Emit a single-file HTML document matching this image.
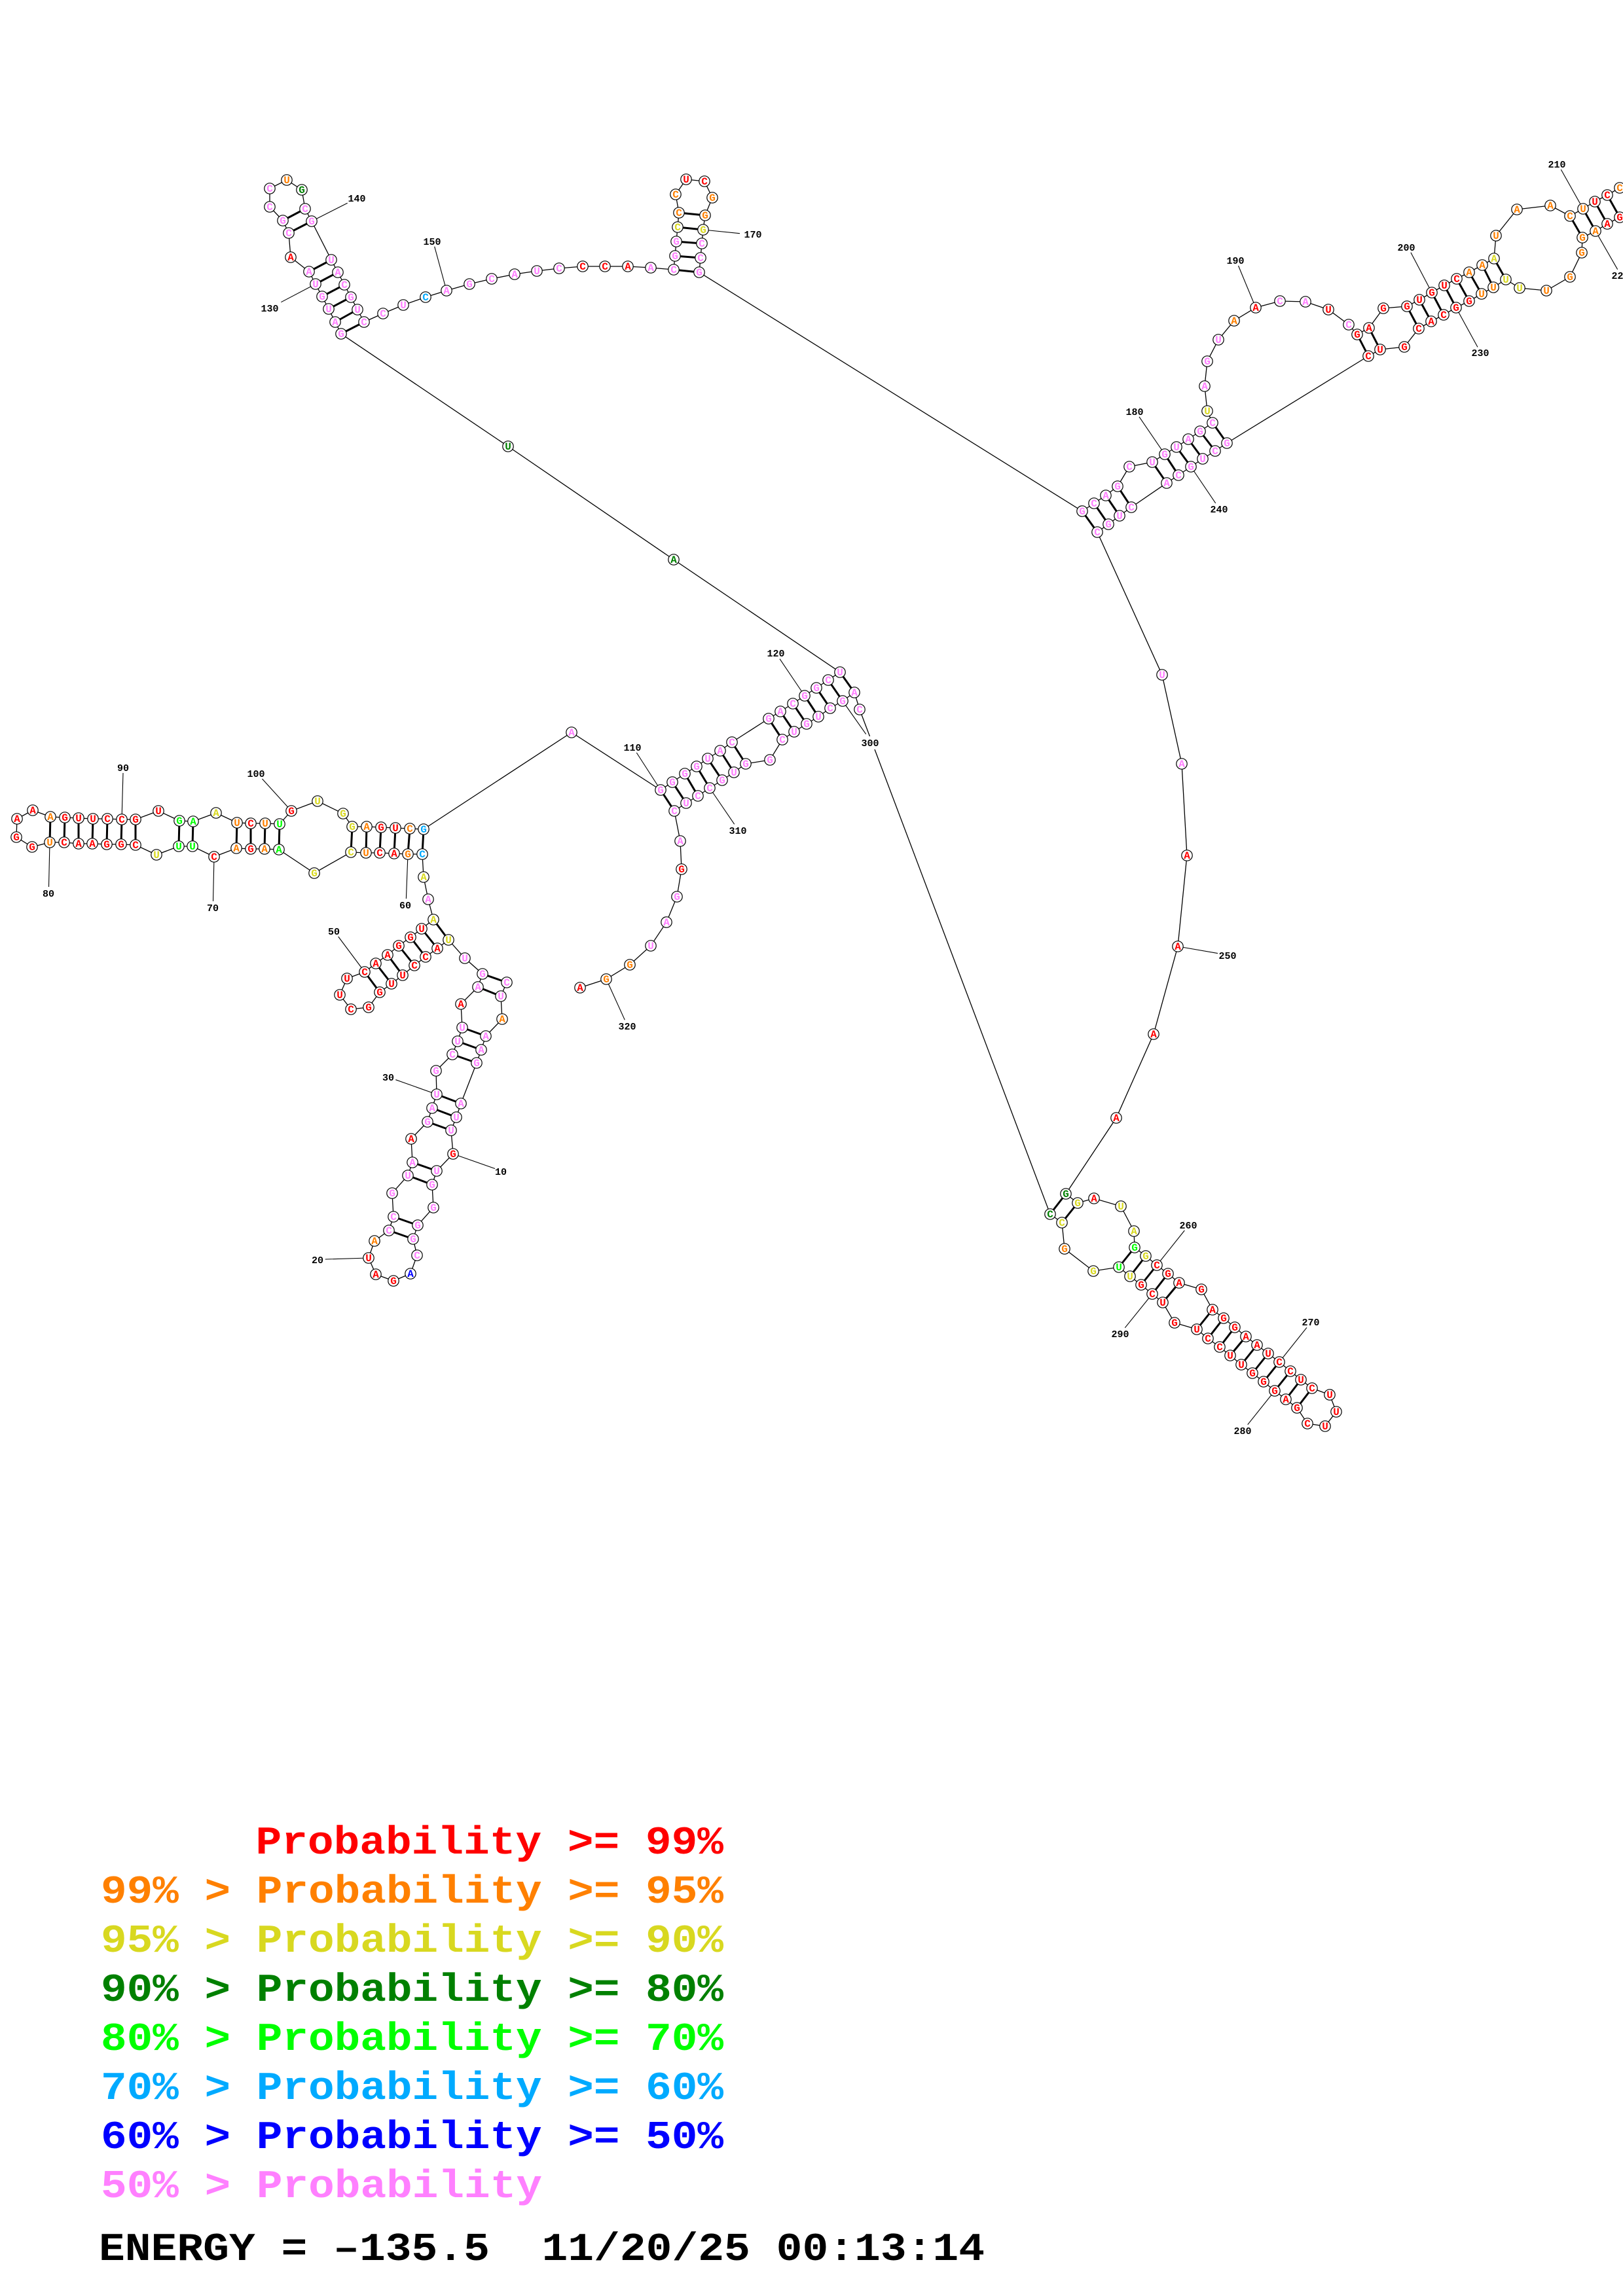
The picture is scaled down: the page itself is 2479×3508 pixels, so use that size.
<!DOCTYPE html>
<html><head><meta charset="utf-8"><title>RNA secondary structure</title>
<style>
html,body{margin:0;padding:0;background:#fff;width:2479px;height:3508px;overflow:hidden}
svg{display:block}
.n circle{r:8.2px;fill:#fff;stroke:#000;stroke-width:1.2}
.l text{font:bold 16px "Liberation Mono",monospace;text-anchor:middle}
.t text{font:bold 15px "Liberation Mono",monospace;text-anchor:middle;fill:#000}
.g text{font:bold 60px "Liberation Mono",monospace}
.r{fill:#f00}.o{fill:#ff8000}.y{fill:#d8d820}.d{fill:#008000}.g2{fill:#0f0}.s{fill:#0af}.b{fill:#00f}.p{fill:#ff80ff}
</style></head><body>
<svg width="2479" height="3508" viewBox="0 0 2479 3508" xmlns="http://www.w3.org/2000/svg">
<rect width="2479" height="3508" fill="#fff"/>
<path fill="none" stroke="#000" stroke-width="1.3" d="M774 1501L765 1522L767 1557L742 1583L735 1604L728 1624L704 1686L697 1707L689 1727L692 1763L667 1789L660 1810L662 1845L638 1872L631 1893L637 1918L627 1946L601 1957L574 1947L563 1922L572 1896L594 1880L601 1859L599 1823L623 1796L630 1776L628 1740L653 1714L660 1693L667 1672L666 1636L691 1611L699 1591L706 1570L704 1534L730 1508L737 1488L710 1464L685 1436L668 1449L650 1462L633 1475L615 1490L598 1503L580 1516L563 1539L536 1542L519 1520L530 1495L557 1485L574 1472L592 1459L609 1445L627 1432L644 1419L662 1405L654 1374L647 1340L645 1305L623 1305L602 1304L580 1303L559 1303L536 1302L480 1334L426 1298L404 1297L383 1297L361 1296L327 1309L294 1293L273 1293L239 1306L207 1291L185 1290L163 1290L141 1289L120 1289L98 1287L76 1287L49 1294L25 1279L26 1251L50 1238L77 1248L99 1249L120 1250L142 1251L164 1251L186 1252L207 1252L242 1239L274 1254L295 1255L330 1242L362 1257L383 1258L405 1258L427 1259L445 1239L485 1224L524 1243L538 1263L560 1263L582 1264L604 1265L626 1266L647 1267L873 1119L1009 1207L1027 1195L1046 1182L1064 1171L1081 1159L1100 1147L1118 1134L1174 1098L1192 1087L1211 1075L1229 1063L1247 1051L1265 1039L1283 1027L1029 855L776 682L521 510L512 492L502 472L492 453L482 434L472 415L444 393L441 356L432 337L412 316L412 288L438 275L461 290L466 319L476 338L506 397L516 416L526 435L536 454L546 473L556 492L585 479L616 466L650 454L682 444L717 434L751 426L786 419L820 414L854 410L890 407L924 407L959 407L994 409L1029 412L1031 391L1033 369L1035 347L1037 325L1032 297L1048 274L1076 277L1088 302L1077 329L1074 351L1072 372L1070 394L1068 416L1653 781L1671 769L1689 757L1707 743L1725 713L1760 706L1779 694L1797 683L1815 671L1833 659L1852 646L1844 628L1840 590L1844 552L1861 519L1885 490L1918 470L1955 460L1994 461L2029 473L2060 496L2073 511L2091 501L2113 471L2149 468L2168 458L2187 447L2206 436L2225 426L2244 416L2264 405L2282 395L2285 360L2317 320L2368 314L2398 330L2418 319L2436 308L2455 298L2474 287L2494 276"/>
<path fill="none" stroke="#000" stroke-width="1.3" d="M2494 321L2474 332L2455 342L2437 353L2417 363L2416 386L2398 423L2362 444L2321 440L2300 427L2281 439L2263 449L2244 460L2224 470L2205 481L2186 491L2167 502L2145 530L2108 534L2090 544L1874 677L1856 689L1837 701L1819 713L1800 726L1782 738L1728 775L1710 788L1693 801L1676 813L1775 1031L1805 1167L1813 1307L1799 1446L1762 1580L1705 1708L1628 1824L1646 1838L1671 1831L1712 1843L1732 1881L1733 1906L1750 1919L1767 1933L1784 1946L1801 1960L1835 1970L1852 2001L1869 2014L1886 2028L1903 2042L1920 2055L1937 2068L1954 2081L1971 2095L1987 2108L2004 2121L2031 2131L2041 2157L2024 2179L1997 2175L1981 2151L1964 2138L1947 2125L1930 2111L1913 2098L1896 2085L1879 2071L1863 2058L1845 2045L1828 2031L1794 2021L1776 1990L1760 1977L1743 1963L1726 1950L1709 1936L1670 1942L1626 1908L1622 1868L1604 1855L1313 1084L1305 1058L1287 1071L1268 1082L1250 1095L1232 1106L1213 1118L1195 1130L1176 1161L1139 1167L1121 1180L1103 1192L1084 1204L1066 1216L1048 1227L1030 1239L1039 1285L1041 1328L1034 1370L1018 1409L994 1445L962 1474L926 1496L886 1509"/>
<path fill="none" stroke="#000" stroke-width="1.1" d="M188 1181L186 1252M74.500 1355L76 1287M325.500 1377L327 1309M400.500 1190L445 1239M620.400 1373L623 1305M516.700 1431L557 1485M604.300 1649.700L667 1672M756 1785.500L692 1763M496.700 1924L563 1922M530.700 310.300L476 338M429.300 461.700L482 434M663.700 376.700L682 444M1130 356.700L1074 351M1740 636.800L1779 694M1891.500 406L1918 470M2154.900 385.800L2187 447M2257 530.400L2224 470M1856.700 768.800L1819 713M2384.300 259L2418 319M2470.700 411.700L2437 353M1860 1456.600L1799 1446M1809.300 1880L1767 1933M1996 2028.300L1954 2081M1905.700 2176.700L1947 2125M1718.300 2028.700L1760 1977M972.300 1150L1009 1207M1191 1006.700L1229 1063M1322.700 1121.700L1287 1071M1121.700 1259.300L1084 1204M954.300 1558.300L926 1496"/>
<path fill="none" stroke="#000" stroke-width="3" d="M774 1501L737 1488M765 1522L730 1508M742 1583L706 1570M735 1604L699 1591M728 1624L691 1611M704 1686L667 1672M697 1707L660 1693M689 1727L653 1714M667 1789L630 1776M660 1810L623 1796M638 1872L601 1859M631 1893L594 1880M685 1436L662 1405M668 1449L644 1419M650 1462L627 1432M633 1475L609 1445M615 1490L592 1459M598 1503L574 1472M580 1516L557 1485M645 1305L647 1267M623 1305L626 1266M602 1304L604 1265M580 1303L582 1264M559 1303L560 1263M536 1302L538 1263M426 1298L427 1259M404 1297L405 1258M383 1297L383 1258M361 1296L362 1257M294 1293L295 1255M273 1293L274 1254M207 1291L207 1252M185 1290L186 1252M163 1290L164 1251M141 1289L142 1251M120 1289L120 1250M98 1287L99 1249M76 1287L77 1248M1009 1207L1030 1239M1027 1195L1048 1227M1046 1182L1066 1216M1064 1171L1084 1204M1081 1159L1103 1192M1100 1147L1121 1180M1118 1134L1139 1167M1174 1098L1195 1130M1192 1087L1213 1118M1211 1075L1232 1106M1229 1063L1250 1095M1247 1051L1268 1082M1265 1039L1287 1071M1283 1027L1305 1058M521 510L556 492M512 492L546 473M502 472L536 454M492 453L526 435M482 434L516 416M472 415L506 397M432 337L466 319M441 356L476 338M1029 412L1068 416M1031 391L1070 394M1033 369L1072 372M1035 347L1074 351M1037 325L1077 329M1653 781L1676 813M1671 769L1693 801M1689 757L1710 788M1707 743L1728 775M1760 706L1782 738M1779 694L1800 726M1797 683L1819 713M1815 671L1837 701M1833 659L1856 689M1852 646L1874 677M2073 511L2090 544M2091 501L2108 534M2149 468L2167 502M2168 458L2186 491M2187 447L2205 481M2206 436L2224 470M2225 426L2244 460M2244 416L2263 449M2264 405L2281 439M2282 395L2300 427M2398 330L2417 363M2418 319L2437 353M2436 308L2455 342M2455 298L2474 332M1628 1824L1604 1855M1646 1838L1622 1868M1733 1906L1709 1936M1750 1919L1726 1950M1767 1933L1743 1963M1784 1946L1760 1977M1801 1960L1776 1990M1852 2001L1828 2031M1869 2014L1845 2045M1886 2028L1863 2058M1903 2042L1879 2071M1920 2055L1896 2085M1937 2068L1913 2098M1954 2081L1930 2111M1971 2095L1947 2125M1987 2108L1964 2138M2004 2121L1981 2151"/>
<rect x="1310" y="1125" width="40" height="20" fill="#fff"/>
<g class="n">
<circle cx="774" cy="1501"/><circle cx="765" cy="1522"/><circle cx="767" cy="1557"/><circle cx="742" cy="1583"/><circle cx="735" cy="1604"/><circle cx="728" cy="1624"/><circle cx="704" cy="1686"/><circle cx="697" cy="1707"/><circle cx="689" cy="1727"/><circle cx="692" cy="1763"/><circle cx="667" cy="1789"/><circle cx="660" cy="1810"/><circle cx="662" cy="1845"/><circle cx="638" cy="1872"/><circle cx="631" cy="1893"/><circle cx="637" cy="1918"/><circle cx="627" cy="1946"/><circle cx="601" cy="1957"/><circle cx="574" cy="1947"/><circle cx="563" cy="1922"/><circle cx="572" cy="1896"/><circle cx="594" cy="1880"/><circle cx="601" cy="1859"/><circle cx="599" cy="1823"/><circle cx="623" cy="1796"/><circle cx="630" cy="1776"/><circle cx="628" cy="1740"/><circle cx="653" cy="1714"/><circle cx="660" cy="1693"/><circle cx="667" cy="1672"/><circle cx="666" cy="1636"/><circle cx="691" cy="1611"/><circle cx="699" cy="1591"/><circle cx="706" cy="1570"/><circle cx="704" cy="1534"/><circle cx="730" cy="1508"/><circle cx="737" cy="1488"/><circle cx="710" cy="1464"/><circle cx="685" cy="1436"/><circle cx="668" cy="1449"/><circle cx="650" cy="1462"/><circle cx="633" cy="1475"/><circle cx="615" cy="1490"/><circle cx="598" cy="1503"/><circle cx="580" cy="1516"/><circle cx="563" cy="1539"/><circle cx="536" cy="1542"/><circle cx="519" cy="1520"/><circle cx="530" cy="1495"/><circle cx="557" cy="1485"/><circle cx="574" cy="1472"/><circle cx="592" cy="1459"/><circle cx="609" cy="1445"/><circle cx="627" cy="1432"/><circle cx="644" cy="1419"/><circle cx="662" cy="1405"/><circle cx="654" cy="1374"/><circle cx="647" cy="1340"/><circle cx="645" cy="1305"/><circle cx="623" cy="1305"/><circle cx="602" cy="1304"/><circle cx="580" cy="1303"/><circle cx="559" cy="1303"/><circle cx="536" cy="1302"/><circle cx="480" cy="1334"/><circle cx="426" cy="1298"/><circle cx="404" cy="1297"/><circle cx="383" cy="1297"/><circle cx="361" cy="1296"/><circle cx="327" cy="1309"/><circle cx="294" cy="1293"/><circle cx="273" cy="1293"/><circle cx="239" cy="1306"/><circle cx="207" cy="1291"/><circle cx="185" cy="1290"/><circle cx="163" cy="1290"/><circle cx="141" cy="1289"/><circle cx="120" cy="1289"/><circle cx="98" cy="1287"/><circle cx="76" cy="1287"/><circle cx="49" cy="1294"/><circle cx="25" cy="1279"/><circle cx="26" cy="1251"/><circle cx="50" cy="1238"/><circle cx="77" cy="1248"/><circle cx="99" cy="1249"/><circle cx="120" cy="1250"/><circle cx="142" cy="1251"/><circle cx="164" cy="1251"/><circle cx="186" cy="1252"/><circle cx="207" cy="1252"/><circle cx="242" cy="1239"/><circle cx="274" cy="1254"/><circle cx="295" cy="1255"/><circle cx="330" cy="1242"/><circle cx="362" cy="1257"/><circle cx="383" cy="1258"/><circle cx="405" cy="1258"/><circle cx="427" cy="1259"/><circle cx="445" cy="1239"/><circle cx="485" cy="1224"/><circle cx="524" cy="1243"/><circle cx="538" cy="1263"/><circle cx="560" cy="1263"/><circle cx="582" cy="1264"/><circle cx="604" cy="1265"/><circle cx="626" cy="1266"/><circle cx="647" cy="1267"/><circle cx="873" cy="1119"/><circle cx="1009" cy="1207"/><circle cx="1027" cy="1195"/><circle cx="1046" cy="1182"/><circle cx="1064" cy="1171"/><circle cx="1081" cy="1159"/><circle cx="1100" cy="1147"/><circle cx="1118" cy="1134"/><circle cx="1174" cy="1098"/><circle cx="1192" cy="1087"/><circle cx="1211" cy="1075"/><circle cx="1229" cy="1063"/><circle cx="1247" cy="1051"/><circle cx="1265" cy="1039"/><circle cx="1283" cy="1027"/><circle cx="1029" cy="855"/><circle cx="776" cy="682"/><circle cx="521" cy="510"/><circle cx="512" cy="492"/><circle cx="502" cy="472"/><circle cx="492" cy="453"/><circle cx="482" cy="434"/><circle cx="472" cy="415"/><circle cx="444" cy="393"/><circle cx="441" cy="356"/><circle cx="432" cy="337"/><circle cx="412" cy="316"/><circle cx="412" cy="288"/><circle cx="438" cy="275"/><circle cx="461" cy="290"/><circle cx="466" cy="319"/><circle cx="476" cy="338"/><circle cx="506" cy="397"/><circle cx="516" cy="416"/><circle cx="526" cy="435"/><circle cx="536" cy="454"/><circle cx="546" cy="473"/><circle cx="556" cy="492"/><circle cx="585" cy="479"/><circle cx="616" cy="466"/><circle cx="650" cy="454"/><circle cx="682" cy="444"/><circle cx="717" cy="434"/><circle cx="751" cy="426"/><circle cx="786" cy="419"/><circle cx="820" cy="414"/><circle cx="854" cy="410"/><circle cx="890" cy="407"/><circle cx="924" cy="407"/><circle cx="959" cy="407"/><circle cx="994" cy="409"/><circle cx="1029" cy="412"/><circle cx="1031" cy="391"/><circle cx="1033" cy="369"/><circle cx="1035" cy="347"/><circle cx="1037" cy="325"/><circle cx="1032" cy="297"/><circle cx="1048" cy="274"/><circle cx="1076" cy="277"/><circle cx="1088" cy="302"/><circle cx="1077" cy="329"/><circle cx="1074" cy="351"/><circle cx="1072" cy="372"/><circle cx="1070" cy="394"/><circle cx="1068" cy="416"/><circle cx="1653" cy="781"/><circle cx="1671" cy="769"/><circle cx="1689" cy="757"/><circle cx="1707" cy="743"/><circle cx="1725" cy="713"/><circle cx="1760" cy="706"/><circle cx="1779" cy="694"/><circle cx="1797" cy="683"/><circle cx="1815" cy="671"/><circle cx="1833" cy="659"/><circle cx="1852" cy="646"/><circle cx="1844" cy="628"/><circle cx="1840" cy="590"/><circle cx="1844" cy="552"/><circle cx="1861" cy="519"/><circle cx="1885" cy="490"/><circle cx="1918" cy="470"/><circle cx="1955" cy="460"/><circle cx="1994" cy="461"/><circle cx="2029" cy="473"/><circle cx="2060" cy="496"/><circle cx="2073" cy="511"/><circle cx="2091" cy="501"/><circle cx="2113" cy="471"/><circle cx="2149" cy="468"/><circle cx="2168" cy="458"/><circle cx="2187" cy="447"/><circle cx="2206" cy="436"/><circle cx="2225" cy="426"/><circle cx="2244" cy="416"/><circle cx="2264" cy="405"/><circle cx="2282" cy="395"/><circle cx="2285" cy="360"/><circle cx="2317" cy="320"/><circle cx="2368" cy="314"/><circle cx="2398" cy="330"/><circle cx="2418" cy="319"/><circle cx="2436" cy="308"/><circle cx="2455" cy="298"/><circle cx="2474" cy="287"/>
<circle cx="2474" cy="332"/><circle cx="2455" cy="342"/><circle cx="2437" cy="353"/><circle cx="2417" cy="363"/><circle cx="2416" cy="386"/><circle cx="2398" cy="423"/><circle cx="2362" cy="444"/><circle cx="2321" cy="440"/><circle cx="2300" cy="427"/><circle cx="2281" cy="439"/><circle cx="2263" cy="449"/><circle cx="2244" cy="460"/><circle cx="2224" cy="470"/><circle cx="2205" cy="481"/><circle cx="2186" cy="491"/><circle cx="2167" cy="502"/><circle cx="2145" cy="530"/><circle cx="2108" cy="534"/><circle cx="2090" cy="544"/><circle cx="1874" cy="677"/><circle cx="1856" cy="689"/><circle cx="1837" cy="701"/><circle cx="1819" cy="713"/><circle cx="1800" cy="726"/><circle cx="1782" cy="738"/><circle cx="1728" cy="775"/><circle cx="1710" cy="788"/><circle cx="1693" cy="801"/><circle cx="1676" cy="813"/><circle cx="1775" cy="1031"/><circle cx="1805" cy="1167"/><circle cx="1813" cy="1307"/><circle cx="1799" cy="1446"/><circle cx="1762" cy="1580"/><circle cx="1705" cy="1708"/><circle cx="1628" cy="1824"/><circle cx="1646" cy="1838"/><circle cx="1671" cy="1831"/><circle cx="1712" cy="1843"/><circle cx="1732" cy="1881"/><circle cx="1733" cy="1906"/><circle cx="1750" cy="1919"/><circle cx="1767" cy="1933"/><circle cx="1784" cy="1946"/><circle cx="1801" cy="1960"/><circle cx="1835" cy="1970"/><circle cx="1852" cy="2001"/><circle cx="1869" cy="2014"/><circle cx="1886" cy="2028"/><circle cx="1903" cy="2042"/><circle cx="1920" cy="2055"/><circle cx="1937" cy="2068"/><circle cx="1954" cy="2081"/><circle cx="1971" cy="2095"/><circle cx="1987" cy="2108"/><circle cx="2004" cy="2121"/><circle cx="2031" cy="2131"/><circle cx="2041" cy="2157"/><circle cx="2024" cy="2179"/><circle cx="1997" cy="2175"/><circle cx="1981" cy="2151"/><circle cx="1964" cy="2138"/><circle cx="1947" cy="2125"/><circle cx="1930" cy="2111"/><circle cx="1913" cy="2098"/><circle cx="1896" cy="2085"/><circle cx="1879" cy="2071"/><circle cx="1863" cy="2058"/><circle cx="1845" cy="2045"/><circle cx="1828" cy="2031"/><circle cx="1794" cy="2021"/><circle cx="1776" cy="1990"/><circle cx="1760" cy="1977"/><circle cx="1743" cy="1963"/><circle cx="1726" cy="1950"/><circle cx="1709" cy="1936"/><circle cx="1670" cy="1942"/><circle cx="1626" cy="1908"/><circle cx="1622" cy="1868"/><circle cx="1604" cy="1855"/><circle cx="1313" cy="1084"/><circle cx="1305" cy="1058"/><circle cx="1287" cy="1071"/><circle cx="1268" cy="1082"/><circle cx="1250" cy="1095"/><circle cx="1232" cy="1106"/><circle cx="1213" cy="1118"/><circle cx="1195" cy="1130"/><circle cx="1176" cy="1161"/><circle cx="1139" cy="1167"/><circle cx="1121" cy="1180"/><circle cx="1103" cy="1192"/><circle cx="1084" cy="1204"/><circle cx="1066" cy="1216"/><circle cx="1048" cy="1227"/><circle cx="1030" cy="1239"/><circle cx="1039" cy="1285"/><circle cx="1041" cy="1328"/><circle cx="1034" cy="1370"/><circle cx="1018" cy="1409"/><circle cx="994" cy="1445"/><circle cx="962" cy="1474"/><circle cx="926" cy="1496"/><circle cx="886" cy="1509"/>
</g>
<g class="l" transform="translate(0,5)">
<text x="774" y="1501" class="p">C</text><text x="765" y="1522" class="p">U</text><text x="767" y="1557" class="o">A</text><text x="742" y="1583" class="p">A</text><text x="735" y="1604" class="p">A</text><text x="728" y="1624" class="p">G</text><text x="704" y="1686" class="p">A</text><text x="697" y="1707" class="p">U</text><text x="689" y="1727" class="p">U</text><text x="692" y="1763" class="r">G</text><text x="667" y="1789" class="p">U</text><text x="660" y="1810" class="p">G</text><text x="662" y="1845" class="p">G</text><text x="638" y="1872" class="p">G</text><text x="631" y="1893" class="p">G</text><text x="637" y="1918" class="p">C</text><text x="627" y="1946" class="b">A</text><text x="601" y="1957" class="r">G</text><text x="574" y="1947" class="r">A</text><text x="563" y="1922" class="r">U</text><text x="572" y="1896" class="o">A</text><text x="594" y="1880" class="p">C</text><text x="601" y="1859" class="p">C</text><text x="599" y="1823" class="p">G</text><text x="623" y="1796" class="p">U</text><text x="630" y="1776" class="p">A</text><text x="628" y="1740" class="r">A</text><text x="653" y="1714" class="p">G</text><text x="660" y="1693" class="p">A</text><text x="667" y="1672" class="p">U</text><text x="666" y="1636" class="p">G</text><text x="691" y="1611" class="p">C</text><text x="699" y="1591" class="p">U</text><text x="706" y="1570" class="p">U</text><text x="704" y="1534" class="r">A</text><text x="730" y="1508" class="p">A</text><text x="737" y="1488" class="p">G</text><text x="710" y="1464" class="p">U</text><text x="685" y="1436" class="y">U</text><text x="668" y="1449" class="r">A</text><text x="650" y="1462" class="r">C</text><text x="633" y="1475" class="r">C</text><text x="615" y="1490" class="r">U</text><text x="598" y="1503" class="r">U</text><text x="580" y="1516" class="r">G</text><text x="563" y="1539" class="r">G</text><text x="536" y="1542" class="r">C</text><text x="519" y="1520" class="r">U</text><text x="530" y="1495" class="r">U</text><text x="557" y="1485" class="r">C</text><text x="574" y="1472" class="r">A</text><text x="592" y="1459" class="r">A</text><text x="609" y="1445" class="r">G</text><text x="627" y="1432" class="r">G</text><text x="644" y="1419" class="r">U</text><text x="662" y="1405" class="y">A</text><text x="654" y="1374" class="p">A</text><text x="647" y="1340" class="y">A</text><text x="645" y="1305" class="s">C</text><text x="623" y="1305" class="o">G</text><text x="602" y="1304" class="r">A</text><text x="580" y="1303" class="r">C</text><text x="559" y="1303" class="o">U</text><text x="536" y="1302" class="y">C</text><text x="480" y="1334" class="y">G</text><text x="426" y="1298" class="g2">A</text><text x="404" y="1297" class="o">A</text><text x="383" y="1297" class="r">G</text><text x="361" y="1296" class="o">A</text><text x="327" y="1309" class="r">C</text><text x="294" y="1293" class="g2">U</text><text x="273" y="1293" class="g2">U</text><text x="239" y="1306" class="y">U</text><text x="207" y="1291" class="r">C</text><text x="185" y="1290" class="r">G</text><text x="163" y="1290" class="r">G</text><text x="141" y="1289" class="r">A</text><text x="120" y="1289" class="r">A</text><text x="98" y="1287" class="r">C</text><text x="76" y="1287" class="o">U</text><text x="49" y="1294" class="r">G</text><text x="25" y="1279" class="r">G</text><text x="26" y="1251" class="r">A</text><text x="50" y="1238" class="r">A</text><text x="77" y="1248" class="o">A</text><text x="99" y="1249" class="r">G</text><text x="120" y="1250" class="r">U</text><text x="142" y="1251" class="r">U</text><text x="164" y="1251" class="r">C</text><text x="186" y="1252" class="r">C</text><text x="207" y="1252" class="r">G</text><text x="242" y="1239" class="r">U</text><text x="274" y="1254" class="g2">G</text><text x="295" y="1255" class="g2">A</text><text x="330" y="1242" class="y">A</text><text x="362" y="1257" class="o">U</text><text x="383" y="1258" class="r">C</text><text x="405" y="1258" class="o">U</text><text x="427" y="1259" class="g2">U</text><text x="445" y="1239" class="r">G</text><text x="485" y="1224" class="y">U</text><text x="524" y="1243" class="y">G</text><text x="538" y="1263" class="y">G</text><text x="560" y="1263" class="o">A</text><text x="582" y="1264" class="r">G</text><text x="604" y="1265" class="r">U</text><text x="626" y="1266" class="o">C</text><text x="647" y="1267" class="s">G</text><text x="873" y="1119" class="p">A</text><text x="1009" y="1207" class="p">G</text><text x="1027" y="1195" class="p">G</text><text x="1046" y="1182" class="p">G</text><text x="1064" y="1171" class="p">G</text><text x="1081" y="1159" class="p">U</text><text x="1100" y="1147" class="p">A</text><text x="1118" y="1134" class="p">C</text><text x="1174" y="1098" class="p">G</text><text x="1192" y="1087" class="p">A</text><text x="1211" y="1075" class="p">C</text><text x="1229" y="1063" class="p">G</text><text x="1247" y="1051" class="p">G</text><text x="1265" y="1039" class="p">C</text><text x="1283" y="1027" class="p">U</text><text x="1029" y="855" class="d">A</text><text x="776" y="682" class="d">U</text><text x="521" y="510" class="p">G</text><text x="512" y="492" class="p">A</text><text x="502" y="472" class="p">U</text><text x="492" y="453" class="p">G</text><text x="482" y="434" class="p">U</text><text x="472" y="415" class="p">A</text><text x="444" y="393" class="r">A</text><text x="441" y="356" class="p">C</text><text x="432" y="337" class="p">G</text><text x="412" y="316" class="p">C</text><text x="412" y="288" class="p">C</text><text x="438" y="275" class="o">U</text><text x="461" y="290" class="d">G</text><text x="466" y="319" class="p">C</text><text x="476" y="338" class="p">G</text><text x="506" y="397" class="p">U</text><text x="516" y="416" class="p">A</text><text x="526" y="435" class="p">C</text><text x="536" y="454" class="p">G</text><text x="546" y="473" class="p">U</text><text x="556" y="492" class="p">C</text><text x="585" y="479" class="p">C</text><text x="616" y="466" class="p">U</text><text x="650" y="454" class="s">C</text><text x="682" y="444" class="p">A</text><text x="717" y="434" class="p">G</text><text x="751" y="426" class="p">C</text><text x="786" y="419" class="p">A</text><text x="820" y="414" class="p">U</text><text x="854" y="410" class="p">C</text><text x="890" y="407" class="r">C</text><text x="924" y="407" class="r">C</text><text x="959" y="407" class="r">A</text><text x="994" y="409" class="p">A</text><text x="1029" y="412" class="p">C</text><text x="1031" y="391" class="p">G</text><text x="1033" y="369" class="p">G</text><text x="1035" y="347" class="y">C</text><text x="1037" y="325" class="o">C</text><text x="1032" y="297" class="o">C</text><text x="1048" y="274" class="r">U</text><text x="1076" y="277" class="r">C</text><text x="1088" y="302" class="o">G</text><text x="1077" y="329" class="o">G</text><text x="1074" y="351" class="y">G</text><text x="1072" y="372" class="p">C</text><text x="1070" y="394" class="p">C</text><text x="1068" y="416" class="p">G</text><text x="1653" y="781" class="p">G</text><text x="1671" y="769" class="p">C</text><text x="1689" y="757" class="p">A</text><text x="1707" y="743" class="p">G</text><text x="1725" y="713" class="p">C</text><text x="1760" y="706" class="p">U</text><text x="1779" y="694" class="p">G</text><text x="1797" y="683" class="p">U</text><text x="1815" y="671" class="p">A</text><text x="1833" y="659" class="p">G</text><text x="1852" y="646" class="p">C</text><text x="1844" y="628" class="y">U</text><text x="1840" y="590" class="p">A</text><text x="1844" y="552" class="p">G</text><text x="1861" y="519" class="p">U</text><text x="1885" y="490" class="o">A</text><text x="1918" y="470" class="r">A</text><text x="1955" y="460" class="p">C</text><text x="1994" y="461" class="p">A</text><text x="2029" y="473" class="r">U</text><text x="2060" y="496" class="p">C</text><text x="2073" y="511" class="r">G</text><text x="2091" y="501" class="r">A</text><text x="2113" y="471" class="r">G</text><text x="2149" y="468" class="r">G</text><text x="2168" y="458" class="r">U</text><text x="2187" y="447" class="r">G</text><text x="2206" y="436" class="r">U</text><text x="2225" y="426" class="r">C</text><text x="2244" y="416" class="o">A</text><text x="2264" y="405" class="o">A</text><text x="2282" y="395" class="y">A</text><text x="2285" y="360" class="o">U</text><text x="2317" y="320" class="o">A</text><text x="2368" y="314" class="o">A</text><text x="2398" y="330" class="o">C</text><text x="2418" y="319" class="o">U</text><text x="2436" y="308" class="r">U</text><text x="2455" y="298" class="r">C</text><text x="2474" y="287" class="o">C</text>
<text x="2474" y="332" class="r">G</text><text x="2455" y="342" class="r">A</text><text x="2437" y="353" class="o">A</text><text x="2417" y="363" class="o">G</text><text x="2416" y="386" class="o">G</text><text x="2398" y="423" class="o">G</text><text x="2362" y="444" class="o">U</text><text x="2321" y="440" class="y">U</text><text x="2300" y="427" class="y">U</text><text x="2281" y="439" class="o">U</text><text x="2263" y="449" class="o">U</text><text x="2244" y="460" class="r">G</text><text x="2224" y="470" class="r">G</text><text x="2205" y="481" class="r">C</text><text x="2186" y="491" class="r">A</text><text x="2167" y="502" class="r">C</text><text x="2145" y="530" class="r">G</text><text x="2108" y="534" class="r">U</text><text x="2090" y="544" class="r">C</text><text x="1874" y="677" class="p">G</text><text x="1856" y="689" class="p">C</text><text x="1837" y="701" class="p">U</text><text x="1819" y="713" class="p">G</text><text x="1800" y="726" class="p">C</text><text x="1782" y="738" class="p">A</text><text x="1728" y="775" class="p">C</text><text x="1710" y="788" class="p">U</text><text x="1693" y="801" class="p">G</text><text x="1676" y="813" class="p">C</text><text x="1775" y="1031" class="p">U</text><text x="1805" y="1167" class="p">A</text><text x="1813" y="1307" class="r">A</text><text x="1799" y="1446" class="r">A</text><text x="1762" y="1580" class="r">A</text><text x="1705" y="1708" class="r">A</text><text x="1628" y="1824" class="d">G</text><text x="1646" y="1838" class="y">G</text><text x="1671" y="1831" class="r">A</text><text x="1712" y="1843" class="y">U</text><text x="1732" y="1881" class="y">A</text><text x="1733" y="1906" class="g2">G</text><text x="1750" y="1919" class="y">G</text><text x="1767" y="1933" class="r">C</text><text x="1784" y="1946" class="r">G</text><text x="1801" y="1960" class="r">A</text><text x="1835" y="1970" class="r">G</text><text x="1852" y="2001" class="r">A</text><text x="1869" y="2014" class="r">G</text><text x="1886" y="2028" class="r">G</text><text x="1903" y="2042" class="r">A</text><text x="1920" y="2055" class="r">A</text><text x="1937" y="2068" class="r">U</text><text x="1954" y="2081" class="r">C</text><text x="1971" y="2095" class="r">C</text><text x="1987" y="2108" class="r">U</text><text x="2004" y="2121" class="r">C</text><text x="2031" y="2131" class="r">U</text><text x="2041" y="2157" class="r">U</text><text x="2024" y="2179" class="r">U</text><text x="1997" y="2175" class="r">C</text><text x="1981" y="2151" class="r">G</text><text x="1964" y="2138" class="r">A</text><text x="1947" y="2125" class="r">G</text><text x="1930" y="2111" class="r">G</text><text x="1913" y="2098" class="r">G</text><text x="1896" y="2085" class="r">U</text><text x="1879" y="2071" class="r">U</text><text x="1863" y="2058" class="r">C</text><text x="1845" y="2045" class="r">C</text><text x="1828" y="2031" class="r">U</text><text x="1794" y="2021" class="r">G</text><text x="1776" y="1990" class="r">U</text><text x="1760" y="1977" class="r">C</text><text x="1743" y="1963" class="r">G</text><text x="1726" y="1950" class="y">U</text><text x="1709" y="1936" class="g2">U</text><text x="1670" y="1942" class="y">G</text><text x="1626" y="1908" class="o">G</text><text x="1622" y="1868" class="y">C</text><text x="1604" y="1855" class="d">C</text><text x="1313" y="1084" class="p">C</text><text x="1305" y="1058" class="p">A</text><text x="1287" y="1071" class="p">G</text><text x="1268" y="1082" class="p">C</text><text x="1250" y="1095" class="p">U</text><text x="1232" y="1106" class="p">G</text><text x="1213" y="1118" class="p">U</text><text x="1195" y="1130" class="p">C</text><text x="1176" y="1161" class="p">G</text><text x="1139" y="1167" class="p">G</text><text x="1121" y="1180" class="p">U</text><text x="1103" y="1192" class="p">G</text><text x="1084" y="1204" class="p">C</text><text x="1066" y="1216" class="p">C</text><text x="1048" y="1227" class="p">U</text><text x="1030" y="1239" class="p">C</text><text x="1039" y="1285" class="p">A</text><text x="1041" y="1328" class="r">G</text><text x="1034" y="1370" class="p">G</text><text x="1018" y="1409" class="p">A</text><text x="994" y="1445" class="p">U</text><text x="962" y="1474" class="o">G</text><text x="926" y="1496" class="o">G</text><text x="886" y="1509" class="r">A</text>
</g>
<g class="t" transform="translate(0,5)">
<text x="188" y="1173">90</text><text x="74" y="1365">80</text><text x="325" y="1387">70</text><text x="391" y="1182">100</text><text x="619" y="1383">60</text><text x="510" y="1423">50</text><text x="593" y="1646">30</text><text x="765" y="1790">10</text><text x="485" y="1925">20</text><text x="545" y="303">140</text><text x="412" y="471">130</text><text x="660" y="369">150</text><text x="1150" y="358">170</text><text x="1733" y="629">180</text><text x="1887" y="398">190</text><text x="2148" y="378">200</text><text x="2261" y="539">230</text><text x="1862" y="778">240</text><text x="2378" y="251">210</text><text x="2475" y="421">220</text><text x="1875" y="1460">250</text><text x="1815" y="1872">260</text><text x="2002" y="2020">270</text><text x="1898" y="2186">280</text><text x="1711" y="2038">290</text><text x="966" y="1142">110</text><text x="1185" y="998">120</text><text x="1329" y="1135">300</text><text x="1127" y="1269">310</text><text x="958" y="1568">320</text>
</g>
<g class="g" xml:space="preserve">
<text x="390.500" y="2832" class="r" textLength="714.500" lengthAdjust="spacingAndGlyphs">Probability &gt;= 99%</text>
<text x="154" y="2907" class="o" textLength="951" lengthAdjust="spacingAndGlyphs">99% &gt; Probability &gt;= 95%</text>
<text x="154" y="2982" class="y" textLength="951" lengthAdjust="spacingAndGlyphs">95% &gt; Probability &gt;= 90%</text>
<text x="154" y="3057" class="d" textLength="951" lengthAdjust="spacingAndGlyphs">90% &gt; Probability &gt;= 80%</text>
<text x="154" y="3132" class="g2" textLength="951" lengthAdjust="spacingAndGlyphs">80% &gt; Probability &gt;= 70%</text>
<text x="154" y="3207" class="s" textLength="951" lengthAdjust="spacingAndGlyphs">70% &gt; Probability &gt;= 60%</text>
<text x="154" y="3282" class="b" textLength="951" lengthAdjust="spacingAndGlyphs">60% &gt; Probability &gt;= 50%</text>
<text x="154" y="3357" class="p" textLength="674" lengthAdjust="spacingAndGlyphs">50% &gt; Probability</text>
<text x="151" y="3453" fill="#000" textLength="1353" lengthAdjust="spacingAndGlyphs" style="white-space:pre">ENERGY = –135.5  11/20/25 00:13:14</text>
</g>
</svg>
</body></html>
